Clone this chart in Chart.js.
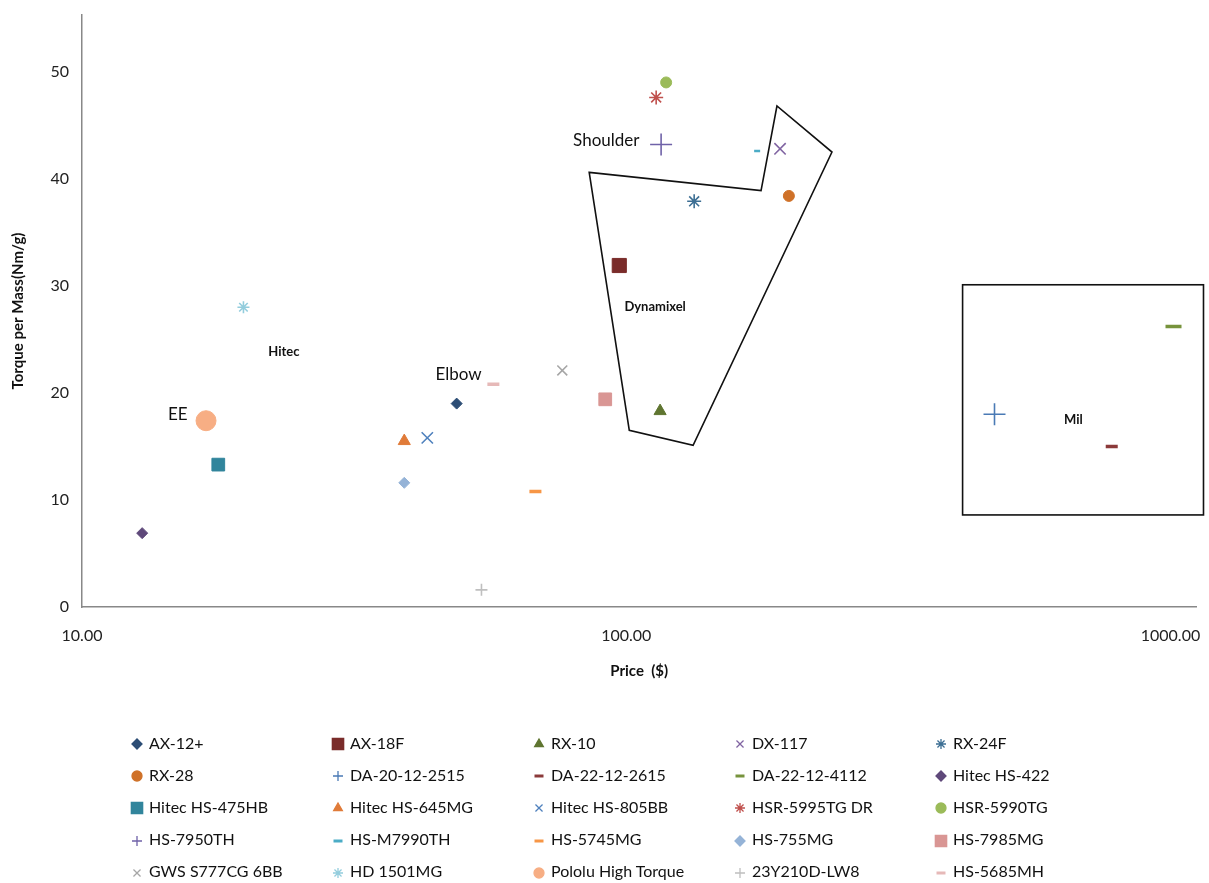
<!DOCTYPE html>
<html>
<head>
<meta charset="utf-8">
<script src="https://cdn.jsdelivr.net/npm/chart.js@4.4.1/dist/chart.umd.min.js"></script>
<style>
  body { margin: 0; background: #fff; font-family: Lato, "Open Sans", sans-serif; }
  #wrap { position: relative; width: 1209px; height: 883px; }
  #chart-box { position: absolute; left: 0; top: 0; width: 1209px; height: 700px; }
  #legend { position: absolute; left: 0; top: 0; width: 1209px; height: 883px; pointer-events: none; }
  .item { position: absolute; height: 24px; display: flex; align-items: center; font-size: 16px; color: #111; white-space: nowrap; }
  .item canvas { width: 20px; height: 20px; margin-right: 2px; }
</style>
</head>
<body>
<div id="wrap">
  <div id="chart-box"><canvas id="myChart"></canvas></div>
  <div id="legend"></div>
</div>
<script>
// servo names, price ($) and torque per mass
const servoNames = [
  'AX-12+', 'AX-18F', 'RX-10', 'DX-117', 'RX-24F',
  'RX-28', 'DA-20-12-2515', 'DA-22-12-2615', 'DA-22-12-4112', 'Hitec HS-422',
  'Hitec HS-475HB', 'Hitec HS-645MG', 'Hitec HS-805BB', 'HSR-5995TG DR', 'HSR-5990TG',
  'HS-7950TH', 'HS-M7990TH', 'HS-5745MG', 'HS-755MG', 'HS-7985MG',
  'GWS S777CG 6BB', 'HD 1501MG', 'Pololu High Torque', '23Y210D-LW8', 'HS-5685MH'
];
const prices = [
  48.8, 97.1, 115.4, 191.7, 133.3,
  199, 475, 780, 1013, 12.9,
  17.8, 39.1, 43.1, 113.5, 118.4,
  115.9, 174, 68.1, 39.1, 91.5,
  76.3, 19.8, 16.9, 54.2, 57.0
];
const torquePerMass = [
  19.0, 31.9, 18.3, 42.8, 37.9,
  38.4, 18.0, 15.0, 26.2, 6.9,
  13.3, 15.5, 15.8, 47.6, 49.0,
  43.2, 42.6, 10.8, 11.6, 19.4,
  22.1, 28.0, 17.4, 1.6, 20.8
];
const xTicks = [10, 100, 1000];
const yTicks = [0, 10, 20, 30, 40, 50];

// marker styles
const colors = [
  '#2c4d75', '#7a2c2a', '#5f7530', '#8064a2', '#3d6f94',
  '#cf7128', '#4a7ab5', '#8b3a3a', '#77933c', '#5f497a',
  '#31859c', '#e07b39', '#4f81bd', '#c0504d', '#9bbb59',
  '#6f62a8', '#4bacc6', '#f79646', '#95b3d7', '#d99694',
  '#a6a6a6', '#93cddd', '#f7ae84', '#bfbfbf', '#e6b9b8'
];
const shapes = [
  'rectRot', 'rect', 'triangle', 'crossRot', 'star',
  'circle', 'cross', 'line', 'line', 'rectRot',
  'rect', 'triangle', 'crossRot', 'star', 'circle',
  'cross', 'line', 'line', 'rectRot', 'rect',
  'crossRot', 'star', 'circle', 'cross', 'line'
];
const radii = [
  5.5, 10, 7, 8, 7,
  5.5, 11, 6, 8, 5.5,
  9, 7, 8, 7, 5.5,
  11, 3, 6, 5.5, 9,
  7, 6, 10, 6, 6
];

// annotation shapes, in data units (price, torque)
const dynamixelOutline = [[85.5, 40.6], [176.9, 38.9], [189.2, 46.8], [238.8, 42.5], [132.7, 15.1], [101.3, 16.5]];
const milBox = [[415, 30.1], [1150, 8.6]];
const bigLabels = [['Shoulder', 91.9, 43.6], ['Elbow', 49.2, 21.7], ['EE', 15.0, 18.0]];
const smallLabels = [['Hitec', 23.5, 23.8], ['Dynamixel', 113, 28.0], ['Mil', 663, 17.5]];

function lineWidthFor(shape) {
  if (shape === 'line') return 3.5;
  if (shape === 'cross' || shape === 'crossRot' || shape === 'star') return 1.6;
  return 1;
}

const datasets = servoNames.map((name, i) => ({
  label: name,
  data: [{ x: prices[i], y: torquePerMass[i] }],
  pointStyle: shapes[i],
  pointRadius: radii[i],
  backgroundColor: colors[i],
  borderColor: colors[i],
  pointBorderWidth: lineWidthFor(shapes[i]) * (i === 16 ? 0.7 : 1),
  showLine: false
}));

const regions = {
  id: 'regions',
  afterDatasetsDraw(chart) {
    const { ctx, scales: { x, y } } = chart;
    ctx.save();
    ctx.strokeStyle = '#111';
    ctx.lineWidth = 1.6;
    ctx.beginPath();
    dynamixelOutline.forEach(([p, t], i) => {
      const px = x.getPixelForValue(p), py = y.getPixelForValue(t);
      if (i) ctx.lineTo(px, py); else ctx.moveTo(px, py);
    });
    ctx.closePath();
    ctx.stroke();

    const x1 = x.getPixelForValue(milBox[0][0]), y1 = y.getPixelForValue(milBox[0][1]);
    const x2 = x.getPixelForValue(milBox[1][0]), y2 = y.getPixelForValue(milBox[1][1]);
    ctx.strokeRect(x1, y1, x2 - x1, y2 - y1);

    ctx.fillStyle = '#111';
    ctx.textAlign = 'center';
    ctx.textBaseline = 'middle';
    ctx.font = '17px Lato, "Open Sans", sans-serif';
    bigLabels.forEach(([txt, p, t]) => ctx.fillText(txt, x.getPixelForValue(p), y.getPixelForValue(t)));
    ctx.font = 'bold 13px Lato, "Open Sans", sans-serif';
    smallLabels.forEach(([txt, p, t]) => ctx.fillText(txt, x.getPixelForValue(p), y.getPixelForValue(t)));
    ctx.restore();
  }
};

new Chart(document.getElementById('myChart').getContext('2d'), {
  type: 'scatter',
  data: { datasets },
  options: {
    responsive: true,
    maintainAspectRatio: false,
    animation: false,
    layout: { padding: { top: 15, right: 11, left: 0, bottom: 0 } },
    plugins: { legend: { display: false }, tooltip: { enabled: false } },
    scales: {
      x: {
        type: 'logarithmic',
        min: 10,
        max: 1116,
        afterBuildTicks: (scale) => { scale.ticks = xTicks.map(v => ({ value: v })); },
        afterFit: (scale) => { scale.height = 93; scale.paddingLeft = 0; scale.paddingRight = 0; },
        grid: { display: false, drawTicks: false },
        border: { color: '#888', width: 1.5 },
        ticks: {
          padding: 19,
          color: '#222',
          font: { family: 'Lato', size: 16 },
          maxRotation: 0,
          autoSkip: false,
          callback: (v) => Number(v).toFixed(2)
        },
        title: {
          display: true,
          text: 'Price  ($)',
          color: '#111',
          font: { family: 'Lato', size: 15, weight: 'bold' },
          padding: { bottom: 20 }
        }
      },
      y: {
        min: 0,
        max: 55.3,
        afterBuildTicks: (scale) => { scale.ticks = yTicks.map(v => ({ value: v })); },
        afterFit: (scale) => { scale.width = 82; scale.paddingTop = 0; scale.paddingBottom = 0; },
        grid: { display: false, drawTicks: false },
        border: { color: '#888', width: 1.5 },
        ticks: {
          padding: 13,
          color: '#222',
          font: { family: 'Lato', size: 16 }
        },
        title: {
          display: true,
          text: 'Torque per Mass(Nm/g)',
          color: '#111',
          font: { family: 'Lato', size: 15, weight: 'bold' },
          padding: { top: 9 }
        }
      }
    }
  },
  plugins: [regions]
});

// legend in a 5-column grid under the chart
const legend = document.getElementById('legend');
servoNames.forEach((name, i) => {
  const col = i % 5, row = Math.floor(i / 5);
  const item = document.createElement('div');
  item.className = 'item';
  item.style.left = (127 + col * 201) + 'px';
  item.style.top = (730 + row * 32.2) + 'px';
  const c = document.createElement('canvas');
  c.width = 20; c.height = 20;
  const g = c.getContext('2d');
  g.fillStyle = colors[i];
  g.strokeStyle = colors[i];
  g.lineWidth = shapes[i] === 'line' ? 3 : 1.3;
  const r = shapes[i] === 'rect' ? 8 : (shapes[i] === 'line' ? 4.5 : 5);
  if (Chart.helpers && Chart.helpers.drawPoint) {
    Chart.helpers.drawPoint(g, { pointStyle: shapes[i], radius: r, rotation: 0, borderWidth: g.lineWidth }, 10, 12);
  } else {
    g.beginPath(); g.arc(10, 12, 4, 0, Math.PI * 2); g.fill();
  }
  item.appendChild(c);
  const span = document.createElement('span');
  span.textContent = name;
  item.appendChild(span);
  legend.appendChild(item);
});
</script>
</body>
</html>
